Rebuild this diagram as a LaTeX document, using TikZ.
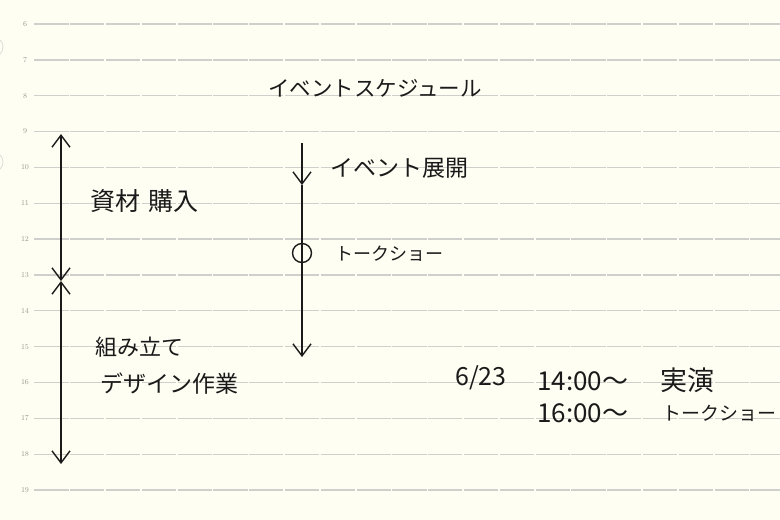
\documentclass[tikz,border=0pt]{standalone}
\usepackage{fontspec}
\newfontfamily\jp{Noto Sans CJK JP}
\usetikzlibrary{arrows.meta}
\definecolor{paper}{HTML}{FEFEF3}
\definecolor{rule}{HTML}{CFCFCC}
\definecolor{numgray}{HTML}{9A9A96}
\definecolor{ink}{HTML}{1A1A1A}
\tikzset{
  ruleline/.style={draw=rule,line width=1.3pt,dash pattern=on 34.3pt off 1.5pt},
  rownum/.style={font=\fontsize{7.5}{7.5}\selectfont,text=numgray,inner sep=0pt},
  hand/.style={font=\jp\fontsize{#1}{#1}\selectfont,text=ink,inner sep=0pt,anchor=west},
  inkline/.style={draw=ink,line width=1.4pt},
  vtip/.style={-{Straight Barb[length=12pt,width=18pt,line width=1.4pt]}},
  vvtip/.style={{Straight Barb[length=12pt,width=18pt,line width=1.4pt]}-{Straight Barb[length=12pt,width=18pt,line width=1.4pt]}},
  hole/.style={draw=rule!70,line width=0.8pt}
}
\begin{document}
\begin{tikzpicture}[x=1pt,y=-1pt]
\fill[paper] (0,0) rectangle (780,520);
\useasboundingbox (0,0) rectangle (780,520);
% binder holes
\draw[hole] (-7,47) circle (10);
\draw[hole] (-7,162) circle (10);
% ruled lines and row numbers
\foreach \n [count=\i from 0] in {6,...,19}{
  \pgfmathsetmacro{\yy}{24+35.85*\i}
  \draw[ruleline] (34.3,\yy) -- (780,\yy);
  \node[rownum] (num\n) at (25,\yy) {\n};
}
% title
\node[hand=21.5] (title) at (268,88) {イベントスケジュール};
% left timeline
\coordinate (lt) at (61,134);
\coordinate (lm1) at (61,281);
\coordinate (lm2) at (61,281);
\coordinate (lb) at (61,464);
\draw[inkline,vvtip] (lm1) -- (lt);
\draw[inkline,vvtip] (lm2) -- (lb);
\node[hand=25] (shizai) at (90,201) {資材\hspace{8pt}購入};
\node[hand=22] (kumi) at (95,347) {組み立て};
\node[hand=23] (design) at (100,384) {デザイン作業};
% middle timeline
\coordinate (mt) at (302,143);
\coordinate (mm) at (302,185);
\coordinate (mb) at (302,357);
\draw[inkline,vtip] (mt) -- (mm);
\draw[inkline,vtip] (mm) -- (mb);
\node[draw=ink,line width=1.4pt,circle,minimum size=19pt,inner sep=0pt,fill=none] (talk) at (302,253) {};
\node[hand=23] (tenkai) at (330,168) {イベント展開};
\node[hand=18] (talklbl) at (335,254) {トークショー};
% schedule
\node[hand=25] (date) at (455,378) {6/23};
\node[hand=26] (t1) at (537,381) {14:00〜};
\node[hand=27] (e1) at (660,380) {実演};
\node[hand=26] (t2) at (537,413) {16:00〜};
\node[hand=19] (e2) at (662,413) {トークショー};
\end{tikzpicture}
\end{document}
